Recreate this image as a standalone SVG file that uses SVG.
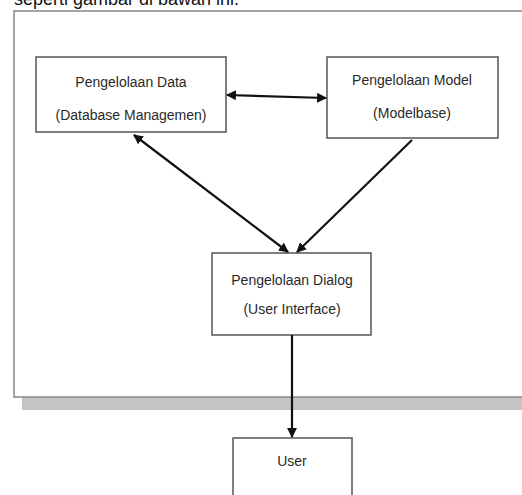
<svg xmlns="http://www.w3.org/2000/svg" width="522" height="495" viewBox="0 0 522 495">
<style>
.box{fill:#fff;stroke:#555;stroke-width:1.5}
.t{font-family:"Liberation Sans",Arial,sans-serif;font-size:14px;fill:#2a2a2a;text-anchor:middle}
.c{stroke:#111;stroke-width:2.2;fill:none}
</style>
<defs>
<marker id="ah" viewBox="0 0 10 10" refX="9" refY="5" markerWidth="4.5" markerHeight="4.5" orient="auto-start-reverse" markerUnits="strokeWidth">
<path d="M0,0 L10,5 L0,10 z" fill="#111"/>
</marker>
</defs>
<text x="14" y="5" font-family="Liberation Sans,Arial,sans-serif" font-size="18" fill="#111">seperti gambar di bawah ini.</text>
<g id="frame">
<rect x="22" y="397" width="500" height="13" fill="#c4c4c4"/>
<rect x="14" y="11" width="520" height="386" fill="#fff" stroke="#888" stroke-width="1.5"/>
</g>
<g id="data">
<rect class="box" x="36" y="57" width="190" height="75"/>
<text class="t" x="131" y="87">Pengelolaan Data</text>
<text class="t" x="131" y="120">(Database Managemen)</text>
</g>
<g id="model">
<rect class="box" x="327" y="57" width="171" height="81"/>
<text class="t" x="412" y="85">Pengelolaan Model</text>
<text class="t" x="412" y="118">(Modelbase)</text>
</g>
<g id="dialog">
<rect class="box" x="212" y="253" width="159" height="82"/>
<text class="t" x="292" y="285">Pengelolaan Dialog</text>
<text class="t" x="292" y="314">(User Interface)</text>
</g>
<g id="user">
<rect class="box" x="233" y="438" width="119" height="70"/>
<text class="t" x="292" y="466">User</text>
</g>
<g id="connectors">
<line class="c" x1="227" y1="95" x2="326" y2="98" marker-start="url(#ah)" marker-end="url(#ah)"/>
<line class="c" x1="134" y1="135" x2="288" y2="252" marker-start="url(#ah)" marker-end="url(#ah)"/>
<line class="c" x1="412" y1="140" x2="297" y2="252" marker-end="url(#ah)"/>
<line class="c" x1="292" y1="335" x2="292" y2="437" marker-end="url(#ah)"/>
</g>
</svg>
